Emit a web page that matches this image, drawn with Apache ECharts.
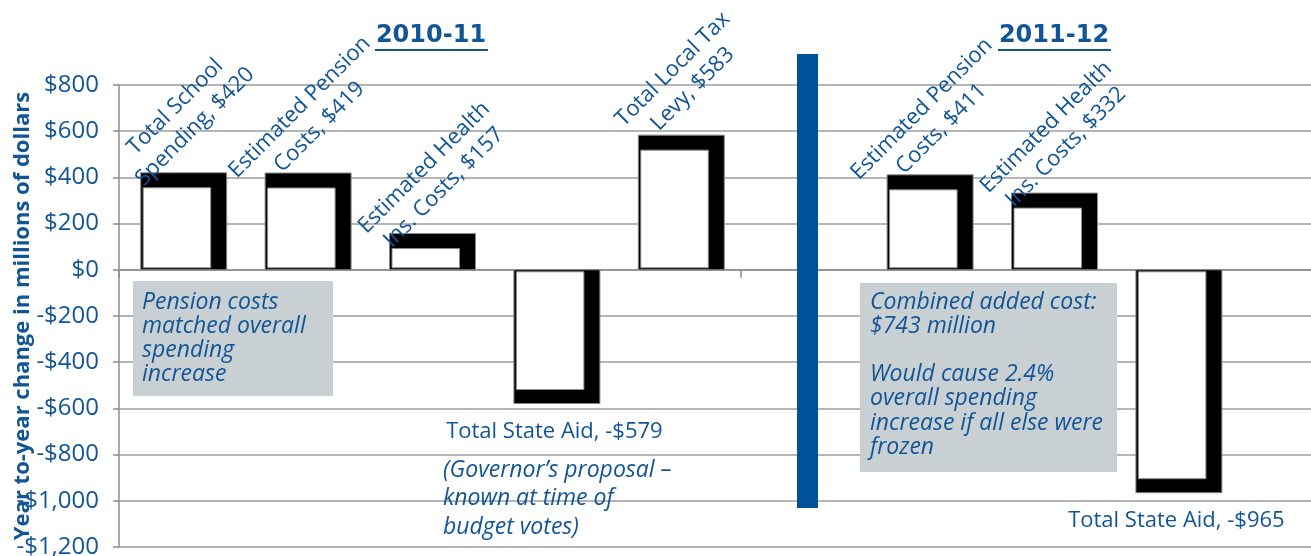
<!DOCTYPE html>
<html>
<head>
<meta charset="utf-8">
<script src="https://cdn.jsdelivr.net/npm/echarts@6/dist/echarts.min.js"></script>
<style>
html,body{margin:0;padding:0;background:#fff;}
#chart{width:1311px;height:556px;}
</style>
</head>
<body>
<div id="chart"></div>
<script>
// ---- data ----
const categories = ['Total School\nSpending', 'Estimated Pension\nCosts', 'Estimated Health\nIns. Costs', 'Total State Aid', 'Total Local Tax\nLevy', '', 'Estimated Pension\nCosts', 'Estimated Health\nIns. Costs', 'Total State Aid', ''];
const values = [420, 419, 157, -579, 583, null, 411, 332, -965, null];
const yMin = -1200, yMax = 800, yStep = 200;
const periodTitles = ['2010-11', '2011-12'];
const note1 = ['Pension costs', 'matched overall', 'spending', 'increase'];
const note2 = ['Combined added cost:', '$743 million', '', 'Would cause 2.4%', 'overall spending', 'increase if all else were', 'frozen'];
const note3 = ['(Governor\u2019s proposal \u2013', 'known at time of', 'budget votes)'];
const yAxisTitle = 'Year to-year change in millions of dollars';

// ---- styling ----
const BLUE = '#125597';
const FONT = "'Open Sans', 'Noto Sans', sans-serif";

function money(v) {
  return (v < 0 ? '-' : '') + '$' + Math.abs(v).toLocaleString('en-US');
}

const seriesData = [];
values.forEach((v, i) => { if (v !== null) seriesData.push([i, v]); });

function renderItem(params, api) {
  const i = api.value(0), v = api.value(1);
  const p = api.coord([i, v]);
  const z = api.coord([i, 0]);
  const xL = p[0] - 40.5, xR = p[0] + 45.5;
  const top = Math.min(p[1], z[1]), bot = Math.max(p[1], z[1]);
  let inner;
  if (v >= 0) {
    inner = { x: xL + 2.5, y: top + 15, width: (xR - 16) - (xL + 2.5), height: Math.max(0, (bot - 2) - (top + 15)) };
  } else {
    inner = { x: xL + 2.5, y: top + 2, width: (xR - 16) - (xL + 2.5), height: Math.max(0, (bot - 14) - (top + 2)) };
  }
  const labelText = categories[i] + ', ' + money(v);
  const children = [
    { type: 'rect', shape: { x: xL, y: top, width: xR - xL, height: bot - top },
      style: { fill: '#000', stroke: '#8a8a8a', lineWidth: 1 } },
    { type: 'rect', shape: inner, style: { fill: '#fff', stroke: '#8a8a8a', lineWidth: 1 } }
  ];
  if (v >= 0) {
    children.push({ type: 'text', x: p[0] + 4, y: top - 56, rotation: Math.PI / 4,
      style: { text: labelText, fill: BLUE, font: '22px ' + FONT, align: 'center', verticalAlign: 'middle', lineHeight: 28 } });
  } else {
    children.push({ type: 'text', x: p[0], y: bot + 28,
      style: { text: labelText, fill: BLUE, font: '22px ' + FONT, align: 'center', verticalAlign: 'middle' } });
  }
  return { type: 'group', children: children };
}

const chart = echarts.init(document.getElementById('chart'), null, { renderer: 'canvas' });

const ITAL = 'italic 23px ' + FONT;
const graphics = [
  // separator between the two years
  { type: 'rect', shape: { x: 797, y: 54, width: 21, height: 454 }, style: { fill: '#01519a' }, z: 10 },
  // year titles
  { type: 'text', x: 431, y: 36, style: { text: periodTitles[0], font: 'bold 24px DejaVu Sans, sans-serif', fill: BLUE, align: 'center', verticalAlign: 'middle' }, z: 10 },
  { type: 'line', shape: { x1: 375, y1: 50, x2: 488, y2: 50 }, style: { stroke: BLUE, lineWidth: 2 }, z: 10 },
  { type: 'text', x: 1054, y: 36, style: { text: periodTitles[1], font: 'bold 24px DejaVu Sans, sans-serif', fill: BLUE, align: 'center', verticalAlign: 'middle' }, z: 10 },
  { type: 'line', shape: { x1: 998, y1: 50, x2: 1111, y2: 50 }, style: { stroke: BLUE, lineWidth: 2 }, z: 10 },
  // note boxes
  { type: 'rect', shape: { x: 133, y: 281, width: 200, height: 115 }, style: { fill: '#c9d0d4' }, z: 5 },
  { type: 'text', x: 142, y: 290, style: { text: note1.join('\n'), font: ITAL, fill: BLUE, lineHeight: 24, align: 'left', verticalAlign: 'top' }, z: 6 },
  { type: 'rect', shape: { x: 860, y: 283, width: 257, height: 189 }, style: { fill: '#c9d0d4' }, z: 5 },
  { type: 'text', x: 870, y: 290, style: { text: note2.join('\n'), font: ITAL, fill: BLUE, lineHeight: 24.2, align: 'left', verticalAlign: 'top' }, z: 6 },
  { type: 'text', x: 443, y: 456, style: { text: note3.join('\n'), font: ITAL, fill: BLUE, lineHeight: 28.5, align: 'left', verticalAlign: 'top' }, z: 6 }
];

chart.setOption({
  animation: false,
  backgroundColor: '#fff',
  grid: { left: 119, right: -52, top: 85, bottom: 9, containLabel: false, outerBoundsMode: 'none' },
  xAxis: {
    type: 'category',
    data: categories,
    axisLine: { onZero: true, lineStyle: { color: '#8c8c8c', width: 1.5 } },
    axisTick: { show: true, length: 8, interval: 4, lineStyle: { color: '#8c8c8c', width: 1.5 } },
    axisLabel: { show: false },
    splitLine: { show: false }
  },
  yAxis: {
    type: 'value',
    min: yMin, max: yMax, interval: yStep,
    name: yAxisTitle,
    nameLocation: 'middle',
    nameRotate: 90,
    nameGap: 85,
    nameMoveOverlap: false,
    nameTextStyle: { color: BLUE, fontFamily: FONT, fontWeight: 'bold', fontSize: 22 },
    axisLine: { show: true, lineStyle: { color: '#8c8c8c', width: 1.5 } },
    axisTick: { show: true, length: 6, lineStyle: { color: '#8c8c8c', width: 1.5 } },
    axisLabel: { color: BLUE, fontFamily: FONT, fontSize: 24, margin: 20, formatter: money },
    splitLine: { show: true, lineStyle: { color: '#9c9c9c', width: 1.5 } }
  },
  series: [{
    type: 'custom',
    renderItem: renderItem,
    encode: { x: 0, y: 1 },
    data: seriesData,
    z: 3
  }],
  graphic: graphics
});
</script>
</body>
</html>
